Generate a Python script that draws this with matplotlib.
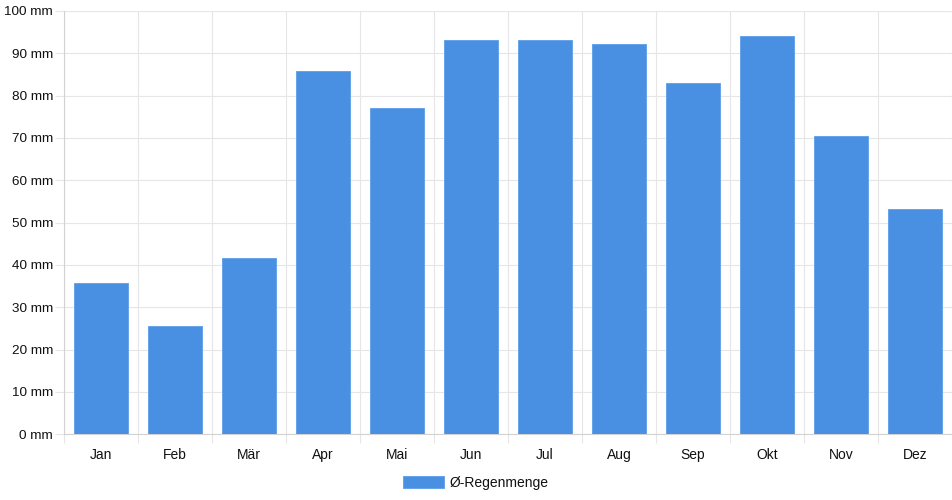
import numpy as np
import matplotlib
matplotlib.use("Agg")
import matplotlib.pyplot as plt

months = ["Jan", "Feb", "Mär", "Apr", "Mai", "Jun", "Jul", "Aug", "Sep", "Okt", "Nov", "Dez"]
rain = [35.7, 25.7, 41.6, 85.9, 77.0, 93.1, 93.2, 92.1, 83.0, 94.2, 70.5, 53.3]
series_label = "Ø-Regenmenge"
y_ticks = [0, 10, 20, 30, 40, 50, 60, 70, 80, 90, 100]

plt.rcParams["font.family"] = ["Liberation Sans", "DejaVu Sans"]
plt.rcParams["font.size"] = 10

W, H = 952, 500
fig = plt.figure(figsize=(W / 100, H / 100), dpi=100)
ax = fig.add_axes([64 / W, 1 - 434.3 / H, (W - 64) / W, (434.3 - 11) / H])

grid_col = "#e6e6e6"
axis_col = "#d2d2d2"
bar_col = "#4a90e2"

x = np.arange(len(months))
ax.bar(x, rain, width=0.72, color=bar_col, edgecolor="#66a3ea", linewidth=0.7,
       label=series_label, zorder=3)

ax.set_xlim(-0.5, len(months) - 0.5)
ax.set_ylim(0, 100)

ax.set_xticks(x)
ax.set_xticklabels(months)
ax.set_xticks(np.arange(len(months) + 1) - 0.5, minor=True)
ax.tick_params(axis="x", which="major", length=0, pad=10, labelsize=10, labelcolor="#111111")
ax.tick_params(axis="x", which="minor", length=6.5, color=grid_col, width=0.8)
ax.grid(axis="x", which="minor", color=grid_col, linewidth=0.8, zorder=0)

ax.set_yticks(y_ticks)
ax.set_yticklabels([f"{v} mm" for v in y_ticks])
ax.tick_params(axis="y", length=6.5, color=grid_col, width=0.8, pad=1.5, labelsize=9.7,
               labelcolor="#111111")
ax.grid(axis="y", which="major", color=grid_col, linewidth=0.8, zorder=0)

for side in ["top", "right"]:
    ax.spines[side].set_visible(False)
for side in ["left", "bottom"]:
    ax.spines[side].set_color(axis_col)
    ax.spines[side].set_linewidth(0.8)

fig.legend(loc="center", bbox_to_anchor=(0.5, 1 - 482.5 / H), frameon=False,
           handlelength=2.9, handleheight=1.0, handletextpad=0.45, fontsize=10,
           labelcolor="#111111")

fig.savefig("out.png", dpi=100)
